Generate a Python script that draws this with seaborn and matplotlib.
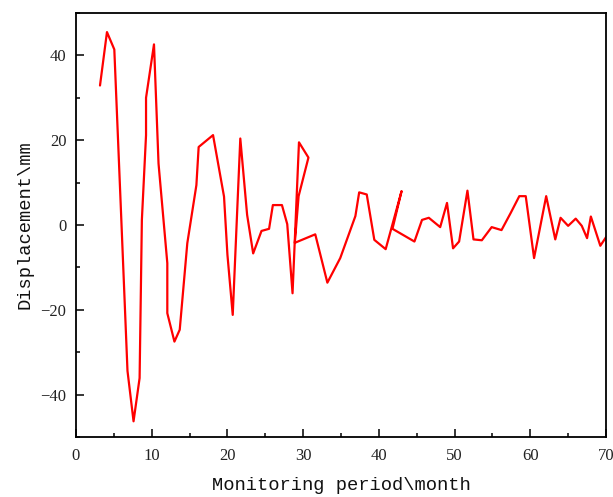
import matplotlib
matplotlib.use("Agg")
import matplotlib.pyplot as plt
import seaborn as sns
import pandas as pd
from matplotlib.ticker import MultipleLocator

# Monitoring record, in recorded order (the series is not sorted by month)
month = [3.17, 4.09, 5.06, 5.9, 6.8, 7.6, 8.4, 8.7, 9.25, 9.25, 10.3, 10.9,
         12.06, 12.06, 13.0, 13.7, 14.7, 15.9, 16.2, 18.1, 19.55, 20.0, 20.7,
         21.7, 22.6, 23.4, 24.5, 25.5, 26.0, 27.2, 27.9, 28.6, 29.45, 30.7,
         29.4, 28.9, 31.6, 33.2, 34.9, 36.9, 37.4, 38.4, 39.4, 40.9, 43.0,
         41.8, 44.7, 45.7, 46.6, 48.1, 49.0, 49.8, 50.6, 51.7, 52.5, 53.6,
         54.9, 56.2, 57.4, 58.55, 59.4, 60.5, 62.1, 63.3, 64.0, 65.0, 66.0,
         66.8, 67.5, 68.0, 69.25, 70.4]
displacement = [32.9, 45.5, 41.4, 5.0, -34.4, -46.3, -36.1, 1.2, 21.2, 30.0,
                42.6, 14.5, -9.0, -20.8, -27.5, -24.7, -4.3, 9.4, 18.4, 21.2,
                6.7, -7.0, -21.2, 20.4, 2.4, -6.7, -1.4, -0.9, 4.7, 4.7, 0.2,
                -16.1, 19.5, 15.9, 6.8, -4.2, -2.2, -13.6, -7.8, 2.1, 7.7,
                7.2, -3.5, -5.7, 8.0, -0.9, -3.9, 1.2, 1.7, -0.5, 5.2, -5.5,
                -3.9, 8.1, -3.4, -3.6, -0.5, -1.2, 2.8, 6.8, 6.8, -7.8, 6.8,
                -3.4, 1.7, -0.2, 1.5, -0.2, -3.1, 2.0, -4.9, -1.8]

x_label = "Monitoring period\\month"
y_label = "Displacement\\mm"

df = pd.DataFrame({"month": month, "disp": displacement})

sns.set_style("ticks")
plt.rcParams["font.family"] = ["Liberation Serif", "DejaVu Serif"]

fig = plt.figure(figsize=(6.13, 4.97), dpi=100)
ax = fig.add_axes([76 / 613, 1 - 437 / 497, 530 / 613, 424 / 497])

sns.lineplot(data=df, x="month", y="disp", sort=False, estimator=None,
             color="#ff0000", linewidth=1.6, ax=ax)

ax.set_xlim(0, 70)
ax.set_ylim(-50, 50)
ax.xaxis.set_major_locator(MultipleLocator(10))
ax.xaxis.set_minor_locator(MultipleLocator(5))
ax.yaxis.set_major_locator(MultipleLocator(20))
ax.yaxis.set_minor_locator(MultipleLocator(10))

for side in ["left", "right", "top", "bottom"]:
    ax.spines[side].set_visible(True)
    ax.spines[side].set_linewidth(1.3)
    ax.spines[side].set_color("black")

ax.tick_params(which="both", direction="in", top=False, right=False,
               width=1.1, color="black")
ax.tick_params(which="major", length=6, labelsize=12, labelcolor="#222222")
ax.tick_params(axis="x", which="major", pad=8)
ax.tick_params(axis="y", which="major", pad=7)
ax.tick_params(which="minor", length=3)

label_font = {"family": ["Liberation Mono", "DejaVu Sans Mono"], "size": 13.5,
              "color": "#111111"}
ax.set_xlabel(x_label, fontdict=label_font)
ax.set_ylabel(y_label, fontdict=label_font)
ax.xaxis.set_label_coords(0.5, -0.095)
ax.yaxis.set_label_coords(-0.08, 0.5)

fig.savefig("out.png", dpi=100)
